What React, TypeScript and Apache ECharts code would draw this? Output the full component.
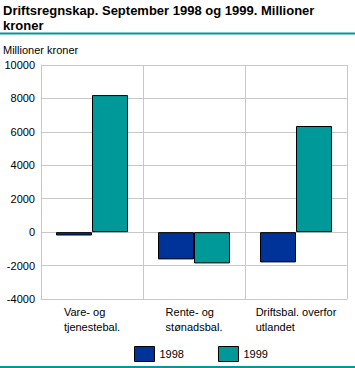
import React, { useEffect, useRef } from "react";
import * as echarts from "echarts";

const categories = ["Vare- og\ntjenestebal.", "Rente- og\nstønadsbal.", "Driftsbal. overfor\nutlandet"];
const values1998 = [-200, -1630, -1810];
const values1999 = [8200, -1870, 6350];
const seriesNames = ["1998", "1999"];
const yTicks = { min: -4000, max: 10000, interval: 2000 };

const FONT = "Liberation Sans";

export default function App() {
  const ref = useRef<HTMLDivElement>(null);
  useEffect(() => {
    const chart = echarts.init(ref.current!, undefined, { renderer: "svg" });
    chart.setOption({
      animation: false,
      textStyle: { fontFamily: FONT },
      graphic: [
        {
          type: "text",
          left: 3,
          top: 3,
          style: {
            text: "Driftsregnskap. September 1998 og 1999. Millioner\nkroner",
            font: `bold 13px ${FONT}`,
            lineHeight: 15,
            fill: "#000",
          },
        },
        { type: "line", shape: { x1: 0, y1: 33.5, x2: 355, y2: 33.5 }, style: { stroke: "#009999", lineWidth: 2 } },
        {
          type: "text",
          left: 3,
          top: 44,
          style: { text: "Millioner kroner", font: `11px ${FONT}`, fill: "#000" },
        },
        { type: "line", shape: { x1: 0, y1: 367, x2: 355, y2: 367 }, style: { stroke: "#009999", lineWidth: 2 } },
      ],
      grid: { left: 41, right: 8, top: 65, bottom: 69, containLabel: false },
      legend: {
        left: 134,
        top: 346,
        padding: 0,
        itemWidth: 20,
        itemHeight: 15,
        itemGap: 34,
        icon: "rect",
        itemStyle: { borderColor: "#000", borderWidth: 1 },
        textStyle: { fontFamily: FONT, fontSize: 11, color: "#000", padding: [0, 0, 3, 0] },
        data: seriesNames,
      },
      xAxis: {
        type: "category",
        data: categories,
        axisLine: { show: true, onZero: false, lineStyle: { color: "#c8c8c8" } },
        axisTick: { show: false },
        splitLine: { show: true, interval: 0, lineStyle: { color: "#c8c8c8" } },
        axisLabel: {
          interval: 0,
          margin: 5,
          color: "#000",
          fontFamily: FONT,
          fontSize: 11,
          lineHeight: 15,
          formatter: (v: string) => v.split("\n").map((l) => `{a|${l}}`).join("\n"),
          rich: { a: { align: "left", fontFamily: FONT, fontSize: 11, lineHeight: 15, color: "#000" } },
        },
      },
      yAxis: {
        type: "value",
        min: yTicks.min,
        max: yTicks.max,
        interval: yTicks.interval,
        axisLine: { show: true, lineStyle: { color: "#c8c8c8" } },
        axisTick: { show: false },
        splitLine: { show: true, lineStyle: { color: "#c8c8c8" } },
        axisLabel: { color: "#000", fontFamily: FONT, fontSize: 11, margin: 6, formatter: (v: number) => String(v) },
      },
      series: [
        {
          name: seriesNames[0],
          type: "bar",
          data: values1998,
          barWidth: 36,
          barGap: "0%",
          itemStyle: { color: "#003399", borderColor: "#000", borderWidth: 1 },
        },
        {
          name: seriesNames[1],
          type: "bar",
          data: values1999,
          barWidth: 36,
          barGap: "0%",
          itemStyle: { color: "#009999", borderColor: "#000", borderWidth: 1 },
        },
      ],
    });
    return () => chart.dispose();
  }, []);
  return <div ref={ref} style={{ width: 355, height: 368, position: "absolute", left: 0, top: 0 }} />;
}
